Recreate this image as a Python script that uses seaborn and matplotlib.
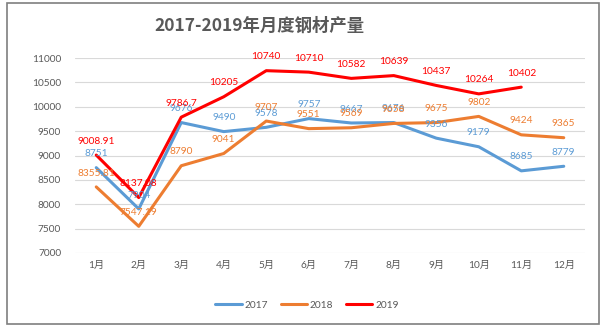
import matplotlib
matplotlib.use("Agg")
import matplotlib.pyplot as plt
import seaborn as sns
import pandas as pd
from matplotlib.patches import Rectangle

months = ["1月", "2月", "3月", "4月", "5月", "6月", "7月", "8月", "9月", "10月", "11月", "12月"]
v2017 = [8751, 7904, 9676, 9490, 9578, 9757, 9667, 9676, 9356, 9179, 8685, 8779]
v2018 = [8355.81, 7547.19, 8790, 9041, 9707, 9551, 9569, 9658, 9675, 9802, 9424, 9365]
v2019 = [9008.91, 8137.08, 9786.7, 10205, 10740, 10710, 10582, 10639, 10437, 10264, 10402]
series_names = ["2017", "2018", "2019"]
yticks = [7000, 7500, 8000, 8500, 9000, 9500, 10000, 10500, 11000]
title = "2017-2019年月度钢材产量"

colors = {"2017": "#5B9BD5", "2018": "#ED7D31", "2019": "#FF0000"}
gray = "#595959"

rows = []
for name, vals in zip(series_names, [v2017, v2018, v2019]):
    for i, v in enumerate(vals):
        rows.append({"idx": i, "month": months[i], "value": v, "year": name})
df = pd.DataFrame(rows)

sns.set_style("white")
plt.rcParams["font.family"] = ["Lato", "Noto Sans CJK SC", "DejaVu Sans"]

fig = plt.figure(figsize=(6.1, 3.35), dpi=100)
ax = fig.add_axes([75 / 610, 1 - 253 / 335, 510 / 610, 195 / 335])

sns.lineplot(data=df, x="idx", y="value", hue="year", palette=colors,
             linewidth=2.2, ax=ax, sort=False, legend=True)

# data labels
for name, vals in zip(series_names, [v2017, v2018, v2019]):
    for i, v in enumerate(vals):
        txt = f"{v:g}" if float(v).is_integer() else f"{v}"
        ax.annotate(txt, (i, v), xytext=(0, 10), textcoords="offset points",
                    ha="center", va="center", fontsize=7.3, color=colors[name])

ax.set_xlim(-0.5, 11.5)
ax.set_ylim(7000, 11000)
ax.set_xticks(range(len(months)))
ax.set_xticklabels(months)
ax.set_yticks(yticks)
ax.set_yticklabels([str(t) for t in yticks])
ax.tick_params(axis="both", length=0, labelsize=7.3, labelcolor=gray)
ax.tick_params(axis="y", pad=10)
ax.tick_params(axis="x", pad=6)
ax.grid(axis="y", color="#D9D9D9", linewidth=0.8)
ax.set_axisbelow(True)
for s in ax.spines.values():
    s.set_visible(False)
ax.set_xlabel("")
ax.set_ylabel("")

leg = ax.legend(loc="center", bbox_to_anchor=(307 / 610, 1 - 305 / 335),
                bbox_transform=fig.transFigure, ncol=3, frameon=False,
                fontsize=7.3, handlelength=2.6, columnspacing=1.2,
                handletextpad=0.3)
for t in leg.get_texts():
    t.set_color(gray)
for h in leg.get_lines():
    h.set_linewidth(2.2)

fig.text(259 / 610, 1 - 26 / 335, title, ha="center", va="center",
         fontsize=12.5, fontweight="bold", color=gray,
         family=["Noto Sans CJK SC", "DejaVu Sans"])

fig.patches.append(Rectangle((7 / 610, 1 - 324 / 335), 592 / 610, 321 / 335,
                             transform=fig.transFigure, fill=False,
                             edgecolor="#7F7F7F", linewidth=1.2))

fig.savefig("out.png", dpi=100, facecolor="white")
